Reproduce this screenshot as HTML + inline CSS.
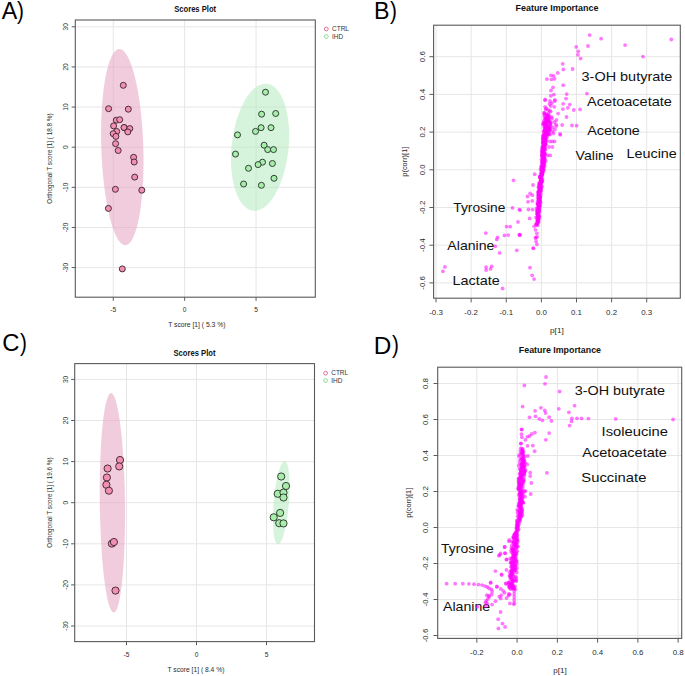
<!DOCTYPE html><html><head><meta charset="utf-8"><style>html,body{margin:0;padding:0;background:#fff;}svg{display:block;}text{font-family:"Liberation Sans",sans-serif;}</style></head><body>
<svg width="685" height="676" viewBox="0 0 685 676">
<rect width="685" height="676" fill="#fff"/>
<text x="1.75" y="18.8" font-size="24.6" fill="#000" textLength="15.5" lengthAdjust="spacingAndGlyphs">A</text>
<text x="17.1" y="18.9" font-size="24.6" fill="#000" textLength="6.9" lengthAdjust="spacingAndGlyphs">)</text>
<text x="373.9" y="18.8" font-size="24.6" fill="#000" textLength="15.5" lengthAdjust="spacingAndGlyphs">B</text>
<text x="390.0" y="18.9" font-size="24.6" fill="#000" textLength="6.9" lengthAdjust="spacingAndGlyphs">)</text>
<text x="2.2" y="351.4" font-size="24.6" fill="#000" textLength="17.2" lengthAdjust="spacingAndGlyphs">C</text>
<text x="20.0" y="351.3" font-size="24.6" fill="#000" textLength="6.9" lengthAdjust="spacingAndGlyphs">)</text>
<text x="373.8" y="353.5" font-size="24.6" fill="#000" textLength="17.6" lengthAdjust="spacingAndGlyphs">D</text>
<text x="392.1" y="353.3" font-size="24.6" fill="#000" textLength="6.9" lengthAdjust="spacingAndGlyphs">)</text>
<line x1="113.25" y1="20.0" x2="113.25" y2="297.2" stroke="#e6e6e6" stroke-width="1"/>
<line x1="184.65" y1="20.0" x2="184.65" y2="297.2" stroke="#e6e6e6" stroke-width="1"/>
<line x1="256.05" y1="20.0" x2="256.05" y2="297.2" stroke="#e6e6e6" stroke-width="1"/>
<line x1="75.3" y1="26.81" x2="315.3" y2="26.81" stroke="#e6e6e6" stroke-width="1"/>
<line x1="75.3" y1="66.94" x2="315.3" y2="66.94" stroke="#e6e6e6" stroke-width="1"/>
<line x1="75.3" y1="107.07" x2="315.3" y2="107.07" stroke="#e6e6e6" stroke-width="1"/>
<line x1="75.3" y1="147.2" x2="315.3" y2="147.2" stroke="#e6e6e6" stroke-width="1"/>
<line x1="75.3" y1="187.33" x2="315.3" y2="187.33" stroke="#e6e6e6" stroke-width="1"/>
<line x1="75.3" y1="227.46" x2="315.3" y2="227.46" stroke="#e6e6e6" stroke-width="1"/>
<line x1="75.3" y1="267.59" x2="315.3" y2="267.59" stroke="#e6e6e6" stroke-width="1"/>
<ellipse cx="122.3" cy="147.1" rx="21.0" ry="98.15" transform="rotate(-1.8 122.3 147.1)" fill="#e6a3c0" fill-opacity="0.55"/>
<ellipse cx="260.05" cy="147.2" rx="28.5" ry="63.8" transform="rotate(6.1 260.05 147.2)" fill="#b5eabd" fill-opacity="0.55"/>
<circle cx="123.3" cy="85.3" r="3.0" fill="#f290b4" stroke="#42262f" stroke-width="0.95"/>
<circle cx="108.6" cy="108.7" r="3.0" fill="#f290b4" stroke="#42262f" stroke-width="0.95"/>
<circle cx="128.3" cy="109.2" r="3.0" fill="#f290b4" stroke="#42262f" stroke-width="0.95"/>
<circle cx="116.3" cy="120.2" r="3.0" fill="#f290b4" stroke="#42262f" stroke-width="0.95"/>
<circle cx="119.7" cy="119.7" r="3.0" fill="#f290b4" stroke="#42262f" stroke-width="0.95"/>
<circle cx="113.6" cy="125.9" r="3.0" fill="#f290b4" stroke="#42262f" stroke-width="0.95"/>
<circle cx="124.3" cy="127.7" r="3.0" fill="#f290b4" stroke="#42262f" stroke-width="0.95"/>
<circle cx="124.0" cy="127.5" r="3.0" fill="#f290b4" stroke="#42262f" stroke-width="0.95"/>
<circle cx="129.8" cy="128.6" r="3.0" fill="#f290b4" stroke="#42262f" stroke-width="0.95"/>
<circle cx="127.8" cy="131.9" r="3.0" fill="#f290b4" stroke="#42262f" stroke-width="0.95"/>
<circle cx="116.7" cy="131.5" r="3.0" fill="#f290b4" stroke="#42262f" stroke-width="0.95"/>
<circle cx="113.2" cy="133.7" r="3.0" fill="#f290b4" stroke="#42262f" stroke-width="0.95"/>
<circle cx="115.9" cy="136.4" r="3.0" fill="#f290b4" stroke="#42262f" stroke-width="0.95"/>
<circle cx="115.6" cy="143.7" r="3.0" fill="#f290b4" stroke="#42262f" stroke-width="0.95"/>
<circle cx="118.2" cy="150.5" r="3.0" fill="#f290b4" stroke="#42262f" stroke-width="0.95"/>
<circle cx="133.6" cy="157.3" r="3.0" fill="#f290b4" stroke="#42262f" stroke-width="0.95"/>
<circle cx="134.2" cy="162.0" r="3.0" fill="#f290b4" stroke="#42262f" stroke-width="0.95"/>
<circle cx="134.7" cy="177.1" r="3.0" fill="#f290b4" stroke="#42262f" stroke-width="0.95"/>
<circle cx="115.4" cy="189.3" r="3.0" fill="#f290b4" stroke="#42262f" stroke-width="0.95"/>
<circle cx="141.8" cy="190.2" r="3.0" fill="#f290b4" stroke="#42262f" stroke-width="0.95"/>
<circle cx="108.4" cy="208.4" r="3.0" fill="#f290b4" stroke="#42262f" stroke-width="0.95"/>
<circle cx="122.3" cy="268.9" r="3.0" fill="#f290b4" stroke="#42262f" stroke-width="0.95"/>
<circle cx="265.5" cy="92.2" r="3.0" fill="#a6eeaa" stroke="#2c382d" stroke-width="0.95"/>
<circle cx="261.6" cy="114.2" r="3.0" fill="#a6eeaa" stroke="#2c382d" stroke-width="0.95"/>
<circle cx="275.7" cy="113.5" r="3.0" fill="#a6eeaa" stroke="#2c382d" stroke-width="0.95"/>
<circle cx="261.1" cy="127.7" r="3.0" fill="#a6eeaa" stroke="#2c382d" stroke-width="0.95"/>
<circle cx="271.0" cy="127.7" r="3.0" fill="#a6eeaa" stroke="#2c382d" stroke-width="0.95"/>
<circle cx="255.5" cy="131.4" r="3.0" fill="#a6eeaa" stroke="#2c382d" stroke-width="0.95"/>
<circle cx="237.5" cy="134.9" r="3.0" fill="#a6eeaa" stroke="#2c382d" stroke-width="0.95"/>
<circle cx="264.1" cy="145.2" r="3.0" fill="#a6eeaa" stroke="#2c382d" stroke-width="0.95"/>
<circle cx="267.7" cy="149.6" r="3.0" fill="#a6eeaa" stroke="#2c382d" stroke-width="0.95"/>
<circle cx="273.5" cy="149.6" r="3.0" fill="#a6eeaa" stroke="#2c382d" stroke-width="0.95"/>
<circle cx="235.5" cy="154.1" r="3.0" fill="#a6eeaa" stroke="#2c382d" stroke-width="0.95"/>
<circle cx="262.5" cy="162.2" r="3.0" fill="#a6eeaa" stroke="#2c382d" stroke-width="0.95"/>
<circle cx="258.1" cy="164.6" r="3.0" fill="#a6eeaa" stroke="#2c382d" stroke-width="0.95"/>
<circle cx="272.4" cy="163.5" r="3.0" fill="#a6eeaa" stroke="#2c382d" stroke-width="0.95"/>
<circle cx="248.5" cy="168.3" r="3.0" fill="#a6eeaa" stroke="#2c382d" stroke-width="0.95"/>
<circle cx="274.0" cy="178.3" r="3.0" fill="#a6eeaa" stroke="#2c382d" stroke-width="0.95"/>
<circle cx="243.6" cy="184.0" r="3.0" fill="#a6eeaa" stroke="#2c382d" stroke-width="0.95"/>
<circle cx="261.4" cy="185.3" r="3.0" fill="#a6eeaa" stroke="#2c382d" stroke-width="0.95"/>
<rect x="75.3" y="20.0" width="240" height="277.2" fill="none" stroke="#5a5a5a" stroke-width="1.1"/>
<line x1="113.25" y1="297.2" x2="113.25" y2="300.8" stroke="#5a5a5a" stroke-width="1"/>
<text x="113.25" y="312" font-size="6.6" text-anchor="middle" fill="#2a2a2a">-5</text>
<line x1="184.65" y1="297.2" x2="184.65" y2="300.8" stroke="#5a5a5a" stroke-width="1"/>
<text x="184.65" y="312" font-size="6.6" text-anchor="middle" fill="#2a2a2a">0</text>
<line x1="256.05" y1="297.2" x2="256.05" y2="300.8" stroke="#5a5a5a" stroke-width="1"/>
<text x="256.05" y="312" font-size="6.6" text-anchor="middle" fill="#2a2a2a">5</text>
<line x1="71.7" y1="26.81" x2="75.3" y2="26.81" stroke="#5a5a5a" stroke-width="1"/>
<text transform="translate(68.2,26.81) rotate(-90)" font-size="6.6" text-anchor="middle" fill="#2a2a2a">30</text>
<line x1="71.7" y1="66.94" x2="75.3" y2="66.94" stroke="#5a5a5a" stroke-width="1"/>
<text transform="translate(68.2,66.94) rotate(-90)" font-size="6.6" text-anchor="middle" fill="#2a2a2a">20</text>
<line x1="71.7" y1="107.07" x2="75.3" y2="107.07" stroke="#5a5a5a" stroke-width="1"/>
<text transform="translate(68.2,107.07) rotate(-90)" font-size="6.6" text-anchor="middle" fill="#2a2a2a">10</text>
<line x1="71.7" y1="147.2" x2="75.3" y2="147.2" stroke="#5a5a5a" stroke-width="1"/>
<text transform="translate(68.2,147.2) rotate(-90)" font-size="6.6" text-anchor="middle" fill="#2a2a2a">0</text>
<line x1="71.7" y1="187.33" x2="75.3" y2="187.33" stroke="#5a5a5a" stroke-width="1"/>
<text transform="translate(68.2,187.33) rotate(-90)" font-size="6.6" text-anchor="middle" fill="#2a2a2a">-10</text>
<line x1="71.7" y1="227.46" x2="75.3" y2="227.46" stroke="#5a5a5a" stroke-width="1"/>
<text transform="translate(68.2,227.46) rotate(-90)" font-size="6.6" text-anchor="middle" fill="#2a2a2a">-20</text>
<line x1="71.7" y1="267.59" x2="75.3" y2="267.59" stroke="#5a5a5a" stroke-width="1"/>
<text transform="translate(68.2,267.59) rotate(-90)" font-size="6.6" text-anchor="middle" fill="#2a2a2a">-30</text>
<text x="174.17" y="11.8" font-size="8.4" font-weight="bold" fill="#111" textLength="42.01" lengthAdjust="spacingAndGlyphs">Scores Plot</text>
<text x="168.24" y="326.9" font-size="6.9" fill="#2a2a2a" textLength="57.17" lengthAdjust="spacingAndGlyphs">T score [1] ( 5.3 %)</text>
<text transform="translate(52,158.6) rotate(-90)" font-size="6.35" text-anchor="middle" fill="#2a2a2a">Orthogonal T score [1] ( 18.8 %)</text>
<circle cx="326.3" cy="29.0" r="1.9" fill="none" stroke="#e0608a" stroke-width="0.9"/>
<circle cx="326.3" cy="36.5" r="1.9" fill="none" stroke="#80d888" stroke-width="0.9"/>
<text x="332.0" y="31.2" font-size="6.5" fill="#333">CTRL</text>
<text x="332.0" y="38.7" font-size="6.5" fill="#333">IHD</text>
<line x1="126.5" y1="363.6" x2="126.5" y2="641.6" stroke="#e6e6e6" stroke-width="1"/>
<line x1="196.5" y1="363.6" x2="196.5" y2="641.6" stroke="#e6e6e6" stroke-width="1"/>
<line x1="266.5" y1="363.6" x2="266.5" y2="641.6" stroke="#e6e6e6" stroke-width="1"/>
<line x1="74.7" y1="379.4" x2="314.5" y2="379.4" stroke="#e6e6e6" stroke-width="1"/>
<line x1="74.7" y1="420.5" x2="314.5" y2="420.5" stroke="#e6e6e6" stroke-width="1"/>
<line x1="74.7" y1="461.6" x2="314.5" y2="461.6" stroke="#e6e6e6" stroke-width="1"/>
<line x1="74.7" y1="502.7" x2="314.5" y2="502.7" stroke="#e6e6e6" stroke-width="1"/>
<line x1="74.7" y1="543.8" x2="314.5" y2="543.8" stroke="#e6e6e6" stroke-width="1"/>
<line x1="74.7" y1="584.9" x2="314.5" y2="584.9" stroke="#e6e6e6" stroke-width="1"/>
<line x1="74.7" y1="626" x2="314.5" y2="626" stroke="#e6e6e6" stroke-width="1"/>
<ellipse cx="112.4" cy="502.85" rx="12.6" ry="109.75" transform="rotate(-0.7 112.4 502.85)" fill="#e6a3c0" fill-opacity="0.55"/>
<ellipse cx="281.25" cy="502.75" rx="7.6" ry="41.8" transform="rotate(4.75 281.25 502.75)" fill="#b5eabd" fill-opacity="0.55"/>
<circle cx="120.0" cy="460.0" r="3.6" fill="#f290b4" stroke="#42262f" stroke-width="0.95"/>
<circle cx="119.2" cy="466.4" r="3.6" fill="#f290b4" stroke="#42262f" stroke-width="0.95"/>
<circle cx="107.6" cy="468.5" r="3.6" fill="#f290b4" stroke="#42262f" stroke-width="0.95"/>
<circle cx="106.9" cy="477.5" r="3.6" fill="#f290b4" stroke="#42262f" stroke-width="0.95"/>
<circle cx="106.4" cy="484.8" r="3.6" fill="#f290b4" stroke="#42262f" stroke-width="0.95"/>
<circle cx="108.9" cy="490.7" r="3.6" fill="#f290b4" stroke="#42262f" stroke-width="0.95"/>
<circle cx="111.9" cy="543.6" r="3.6" fill="#f290b4" stroke="#42262f" stroke-width="0.95"/>
<circle cx="113.9" cy="542.0" r="3.6" fill="#f290b4" stroke="#42262f" stroke-width="0.95"/>
<circle cx="115.5" cy="590.6" r="3.6" fill="#f290b4" stroke="#42262f" stroke-width="0.95"/>
<circle cx="281.2" cy="476.5" r="3.6" fill="#a6eeaa" stroke="#2c382d" stroke-width="0.95"/>
<circle cx="286.0" cy="486.0" r="3.6" fill="#a6eeaa" stroke="#2c382d" stroke-width="0.95"/>
<circle cx="277.7" cy="493.8" r="3.6" fill="#a6eeaa" stroke="#2c382d" stroke-width="0.95"/>
<circle cx="283.5" cy="492.6" r="3.6" fill="#a6eeaa" stroke="#2c382d" stroke-width="0.95"/>
<circle cx="283.5" cy="497.5" r="3.6" fill="#a6eeaa" stroke="#2c382d" stroke-width="0.95"/>
<circle cx="280.1" cy="512.9" r="3.6" fill="#a6eeaa" stroke="#2c382d" stroke-width="0.95"/>
<circle cx="273.7" cy="517.3" r="3.6" fill="#a6eeaa" stroke="#2c382d" stroke-width="0.95"/>
<circle cx="279.2" cy="523.2" r="3.6" fill="#a6eeaa" stroke="#2c382d" stroke-width="0.95"/>
<circle cx="283.5" cy="523.4" r="3.6" fill="#a6eeaa" stroke="#2c382d" stroke-width="0.95"/>
<rect x="74.7" y="363.6" width="239.8" height="278" fill="none" stroke="#5a5a5a" stroke-width="1.1"/>
<line x1="126.5" y1="641.6" x2="126.5" y2="645.2" stroke="#5a5a5a" stroke-width="1"/>
<text x="126.5" y="656.5" font-size="6.6" text-anchor="middle" fill="#2a2a2a">-5</text>
<line x1="196.5" y1="641.6" x2="196.5" y2="645.2" stroke="#5a5a5a" stroke-width="1"/>
<text x="196.5" y="656.5" font-size="6.6" text-anchor="middle" fill="#2a2a2a">0</text>
<line x1="266.5" y1="641.6" x2="266.5" y2="645.2" stroke="#5a5a5a" stroke-width="1"/>
<text x="266.5" y="656.5" font-size="6.6" text-anchor="middle" fill="#2a2a2a">5</text>
<line x1="71.1" y1="379.4" x2="74.7" y2="379.4" stroke="#5a5a5a" stroke-width="1"/>
<text transform="translate(67.6,379.4) rotate(-90)" font-size="6.6" text-anchor="middle" fill="#2a2a2a">30</text>
<line x1="71.1" y1="420.5" x2="74.7" y2="420.5" stroke="#5a5a5a" stroke-width="1"/>
<text transform="translate(67.6,420.5) rotate(-90)" font-size="6.6" text-anchor="middle" fill="#2a2a2a">20</text>
<line x1="71.1" y1="461.6" x2="74.7" y2="461.6" stroke="#5a5a5a" stroke-width="1"/>
<text transform="translate(67.6,461.6) rotate(-90)" font-size="6.6" text-anchor="middle" fill="#2a2a2a">10</text>
<line x1="71.1" y1="502.7" x2="74.7" y2="502.7" stroke="#5a5a5a" stroke-width="1"/>
<text transform="translate(67.6,502.7) rotate(-90)" font-size="6.6" text-anchor="middle" fill="#2a2a2a">0</text>
<line x1="71.1" y1="543.8" x2="74.7" y2="543.8" stroke="#5a5a5a" stroke-width="1"/>
<text transform="translate(67.6,543.8) rotate(-90)" font-size="6.6" text-anchor="middle" fill="#2a2a2a">-10</text>
<line x1="71.1" y1="584.9" x2="74.7" y2="584.9" stroke="#5a5a5a" stroke-width="1"/>
<text transform="translate(67.6,584.9) rotate(-90)" font-size="6.6" text-anchor="middle" fill="#2a2a2a">-20</text>
<line x1="71.1" y1="626" x2="74.7" y2="626" stroke="#5a5a5a" stroke-width="1"/>
<text transform="translate(67.6,626) rotate(-90)" font-size="6.6" text-anchor="middle" fill="#2a2a2a">-30</text>
<text x="173.43" y="355.6" font-size="8.4" font-weight="bold" fill="#111" textLength="42.09" lengthAdjust="spacingAndGlyphs">Scores Plot</text>
<text x="167.50" y="671.6" font-size="6.9" fill="#2a2a2a" textLength="56.91" lengthAdjust="spacingAndGlyphs">T score [1] ( 8.4 %)</text>
<text transform="translate(51.8,502.6) rotate(-90)" font-size="6.35" text-anchor="middle" fill="#2a2a2a">Orthogonal T score [1] ( 19.6 %)</text>
<circle cx="325.6" cy="373.2" r="1.9" fill="none" stroke="#e0608a" stroke-width="0.9"/>
<circle cx="325.6" cy="380.5" r="1.9" fill="none" stroke="#80d888" stroke-width="0.9"/>
<text x="331.2" y="375.4" font-size="6.5" fill="#333">CTRL</text>
<text x="331.2" y="382.7" font-size="6.5" fill="#333">IHD</text>
<line x1="436.01" y1="25.2" x2="436.01" y2="298.2" stroke="#e6e6e6" stroke-width="1"/>
<line x1="471.13" y1="25.2" x2="471.13" y2="298.2" stroke="#e6e6e6" stroke-width="1"/>
<line x1="506.25" y1="25.2" x2="506.25" y2="298.2" stroke="#e6e6e6" stroke-width="1"/>
<line x1="541.37" y1="25.2" x2="541.37" y2="298.2" stroke="#e6e6e6" stroke-width="1"/>
<line x1="576.49" y1="25.2" x2="576.49" y2="298.2" stroke="#e6e6e6" stroke-width="1"/>
<line x1="611.61" y1="25.2" x2="611.61" y2="298.2" stroke="#e6e6e6" stroke-width="1"/>
<line x1="646.73" y1="25.2" x2="646.73" y2="298.2" stroke="#e6e6e6" stroke-width="1"/>
<line x1="433.6" y1="56.7" x2="680.3" y2="56.7" stroke="#e6e6e6" stroke-width="1"/>
<line x1="433.6" y1="94.4" x2="680.3" y2="94.4" stroke="#e6e6e6" stroke-width="1"/>
<line x1="433.6" y1="132.1" x2="680.3" y2="132.1" stroke="#e6e6e6" stroke-width="1"/>
<line x1="433.6" y1="169.8" x2="680.3" y2="169.8" stroke="#e6e6e6" stroke-width="1"/>
<line x1="433.6" y1="207.5" x2="680.3" y2="207.5" stroke="#e6e6e6" stroke-width="1"/>
<line x1="433.6" y1="245.2" x2="680.3" y2="245.2" stroke="#e6e6e6" stroke-width="1"/>
<line x1="433.6" y1="282.9" x2="680.3" y2="282.9" stroke="#e6e6e6" stroke-width="1"/>
<text x="581.59" y="80.5" font-size="13.6" fill="#111" textLength="90.68" lengthAdjust="spacingAndGlyphs">3-OH butyrate</text>
<text x="587.11" y="106.2" font-size="13.6" fill="#111" textLength="84.80" lengthAdjust="spacingAndGlyphs">Acetoacetate</text>
<text x="587.22" y="134.7" font-size="13.6" fill="#111" textLength="52.62" lengthAdjust="spacingAndGlyphs">Acetone</text>
<text x="575.60" y="160.4" font-size="13.6" fill="#111" textLength="38.08" lengthAdjust="spacingAndGlyphs">Valine</text>
<text x="626.50" y="157.9" font-size="13.6" fill="#111" textLength="50.33" lengthAdjust="spacingAndGlyphs">Leucine</text>
<text x="453.26" y="211.7" font-size="13.6" fill="#111" textLength="52.12" lengthAdjust="spacingAndGlyphs">Tyrosine</text>
<text x="447.36" y="250.4" font-size="13.6" fill="#111" textLength="47.09" lengthAdjust="spacingAndGlyphs">Alanine</text>
<text x="452.40" y="285.3" font-size="13.6" fill="#111" textLength="47.30" lengthAdjust="spacingAndGlyphs">Lactate</text>
<g fill="#ff00ff" fill-opacity="0.53">
<circle cx="546.3" cy="108.5" r="1.9"/>
<circle cx="545.7" cy="109.4" r="1.9"/>
<circle cx="548.2" cy="110.1" r="1.9"/>
<circle cx="550.6" cy="111.6" r="1.9"/>
<circle cx="544.0" cy="112.9" r="1.9"/>
<circle cx="545.2" cy="113.8" r="1.9"/>
<circle cx="548.3" cy="113.4" r="1.9"/>
<circle cx="544.4" cy="114.7" r="1.9"/>
<circle cx="547.0" cy="114.5" r="1.9"/>
<circle cx="548.9" cy="115.2" r="1.9"/>
<circle cx="547.5" cy="115.9" r="1.9"/>
<circle cx="547.7" cy="116.4" r="1.9"/>
<circle cx="544.4" cy="116.5" r="1.9"/>
<circle cx="549.4" cy="117.6" r="1.9"/>
<circle cx="545.6" cy="117.7" r="1.9"/>
<circle cx="547.9" cy="117.5" r="1.9"/>
<circle cx="546.9" cy="118.7" r="1.9"/>
<circle cx="548.6" cy="119.0" r="1.9"/>
<circle cx="545.3" cy="118.4" r="1.9"/>
<circle cx="545.5" cy="119.1" r="1.9"/>
<circle cx="546.6" cy="119.2" r="1.9"/>
<circle cx="546.9" cy="119.4" r="1.9"/>
<circle cx="549.6" cy="120.9" r="1.9"/>
<circle cx="546.1" cy="120.9" r="1.9"/>
<circle cx="544.1" cy="120.2" r="1.9"/>
<circle cx="547.2" cy="121.3" r="1.9"/>
<circle cx="546.1" cy="121.6" r="1.9"/>
<circle cx="548.5" cy="121.5" r="1.9"/>
<circle cx="548.4" cy="121.1" r="1.9"/>
<circle cx="549.9" cy="122.8" r="1.9"/>
<circle cx="544.8" cy="122.6" r="1.9"/>
<circle cx="543.9" cy="122.2" r="1.9"/>
<circle cx="543.4" cy="123.1" r="1.9"/>
<circle cx="546.4" cy="123.6" r="1.9"/>
<circle cx="545.2" cy="123.4" r="1.9"/>
<circle cx="550.2" cy="123.5" r="1.9"/>
<circle cx="544.5" cy="124.3" r="1.9"/>
<circle cx="544.0" cy="124.0" r="1.9"/>
<circle cx="546.9" cy="124.1" r="1.9"/>
<circle cx="542.9" cy="124.5" r="1.9"/>
<circle cx="548.2" cy="125.3" r="1.9"/>
<circle cx="546.4" cy="125.5" r="1.9"/>
<circle cx="545.3" cy="125.2" r="1.9"/>
<circle cx="550.5" cy="125.9" r="1.9"/>
<circle cx="548.5" cy="126.2" r="1.9"/>
<circle cx="545.4" cy="126.0" r="1.9"/>
<circle cx="544.8" cy="126.7" r="1.9"/>
<circle cx="546.2" cy="126.9" r="1.9"/>
<circle cx="545.4" cy="127.2" r="1.9"/>
<circle cx="544.2" cy="127.6" r="1.9"/>
<circle cx="549.2" cy="127.5" r="1.9"/>
<circle cx="548.8" cy="127.1" r="1.9"/>
<circle cx="548.6" cy="128.8" r="1.9"/>
<circle cx="546.3" cy="128.3" r="1.9"/>
<circle cx="550.0" cy="128.4" r="1.9"/>
<circle cx="549.0" cy="128.2" r="1.9"/>
<circle cx="549.0" cy="129.1" r="1.9"/>
<circle cx="549.9" cy="129.7" r="1.9"/>
<circle cx="545.1" cy="129.0" r="1.9"/>
<circle cx="547.4" cy="129.5" r="1.9"/>
<circle cx="545.8" cy="129.9" r="1.9"/>
<circle cx="544.5" cy="130.2" r="1.9"/>
<circle cx="544.4" cy="130.4" r="1.9"/>
<circle cx="547.2" cy="130.5" r="1.9"/>
<circle cx="549.2" cy="130.4" r="1.9"/>
<circle cx="546.3" cy="131.5" r="1.9"/>
<circle cx="544.7" cy="131.0" r="1.9"/>
<circle cx="543.7" cy="131.5" r="1.9"/>
<circle cx="546.5" cy="131.3" r="1.9"/>
<circle cx="548.0" cy="132.1" r="1.9"/>
<circle cx="544.2" cy="132.3" r="1.9"/>
<circle cx="546.1" cy="132.6" r="1.9"/>
<circle cx="548.9" cy="132.4" r="1.9"/>
<circle cx="546.0" cy="133.7" r="1.9"/>
<circle cx="545.9" cy="133.9" r="1.9"/>
<circle cx="548.5" cy="133.9" r="1.9"/>
<circle cx="547.7" cy="133.8" r="1.9"/>
<circle cx="544.0" cy="134.2" r="1.9"/>
<circle cx="547.1" cy="134.9" r="1.9"/>
<circle cx="546.9" cy="134.1" r="1.9"/>
<circle cx="548.7" cy="134.2" r="1.9"/>
<circle cx="545.0" cy="134.5" r="1.9"/>
<circle cx="543.3" cy="135.4" r="1.9"/>
<circle cx="544.4" cy="135.2" r="1.9"/>
<circle cx="544.6" cy="135.6" r="1.9"/>
<circle cx="543.4" cy="135.6" r="1.9"/>
<circle cx="547.3" cy="137.0" r="1.9"/>
<circle cx="543.1" cy="136.8" r="1.9"/>
<circle cx="543.8" cy="136.9" r="1.9"/>
<circle cx="543.7" cy="136.1" r="1.9"/>
<circle cx="545.9" cy="137.1" r="1.9"/>
<circle cx="545.1" cy="137.1" r="1.9"/>
<circle cx="545.5" cy="137.8" r="1.9"/>
<circle cx="544.6" cy="137.9" r="1.9"/>
<circle cx="545.7" cy="138.3" r="1.9"/>
<circle cx="544.0" cy="138.1" r="1.9"/>
<circle cx="542.8" cy="138.3" r="1.9"/>
<circle cx="544.7" cy="138.5" r="1.9"/>
<circle cx="542.8" cy="139.0" r="1.9"/>
<circle cx="544.7" cy="139.2" r="1.9"/>
<circle cx="544.6" cy="139.8" r="1.9"/>
<circle cx="545.2" cy="139.4" r="1.9"/>
<circle cx="546.5" cy="140.3" r="1.9"/>
<circle cx="545.3" cy="140.6" r="1.9"/>
<circle cx="543.0" cy="140.1" r="1.9"/>
<circle cx="544.4" cy="140.2" r="1.9"/>
<circle cx="545.9" cy="141.7" r="1.9"/>
<circle cx="543.3" cy="141.5" r="1.9"/>
<circle cx="543.7" cy="142.0" r="1.9"/>
<circle cx="544.5" cy="141.2" r="1.9"/>
<circle cx="542.8" cy="142.4" r="1.9"/>
<circle cx="543.6" cy="142.5" r="1.9"/>
<circle cx="542.8" cy="142.4" r="1.9"/>
<circle cx="543.2" cy="143.6" r="1.9"/>
<circle cx="545.2" cy="143.7" r="1.9"/>
<circle cx="545.7" cy="143.4" r="1.9"/>
<circle cx="544.4" cy="143.7" r="1.9"/>
<circle cx="545.5" cy="144.6" r="1.9"/>
<circle cx="545.3" cy="144.1" r="1.9"/>
<circle cx="544.1" cy="144.8" r="1.9"/>
<circle cx="545.3" cy="144.6" r="1.9"/>
<circle cx="544.7" cy="145.2" r="1.9"/>
<circle cx="543.0" cy="145.1" r="1.9"/>
<circle cx="544.2" cy="145.6" r="1.9"/>
<circle cx="543.9" cy="146.0" r="1.9"/>
<circle cx="544.9" cy="146.5" r="1.9"/>
<circle cx="544.5" cy="146.1" r="1.9"/>
<circle cx="542.9" cy="146.1" r="1.9"/>
<circle cx="542.7" cy="147.7" r="1.9"/>
<circle cx="543.8" cy="147.4" r="1.9"/>
<circle cx="544.7" cy="147.6" r="1.9"/>
<circle cx="542.2" cy="147.1" r="1.9"/>
<circle cx="543.1" cy="148.6" r="1.9"/>
<circle cx="542.5" cy="148.7" r="1.9"/>
<circle cx="544.5" cy="148.3" r="1.9"/>
<circle cx="543.7" cy="148.5" r="1.9"/>
<circle cx="542.6" cy="150.0" r="1.9"/>
<circle cx="542.0" cy="149.5" r="1.9"/>
<circle cx="545.5" cy="149.4" r="1.9"/>
<circle cx="544.0" cy="149.2" r="1.9"/>
<circle cx="544.6" cy="150.1" r="1.9"/>
<circle cx="543.7" cy="150.9" r="1.9"/>
<circle cx="542.7" cy="150.9" r="1.9"/>
<circle cx="542.7" cy="151.5" r="1.9"/>
<circle cx="542.7" cy="151.3" r="1.9"/>
<circle cx="541.8" cy="151.8" r="1.9"/>
<circle cx="542.3" cy="151.9" r="1.9"/>
<circle cx="542.8" cy="152.4" r="1.9"/>
<circle cx="544.7" cy="152.4" r="1.9"/>
<circle cx="542.4" cy="152.1" r="1.9"/>
<circle cx="543.9" cy="153.3" r="1.9"/>
<circle cx="542.4" cy="153.4" r="1.9"/>
<circle cx="544.9" cy="153.8" r="1.9"/>
<circle cx="545.1" cy="154.5" r="1.9"/>
<circle cx="541.9" cy="154.7" r="1.9"/>
<circle cx="544.2" cy="154.3" r="1.9"/>
<circle cx="542.1" cy="155.5" r="1.9"/>
<circle cx="543.5" cy="156.0" r="1.9"/>
<circle cx="543.4" cy="155.6" r="1.9"/>
<circle cx="542.2" cy="155.2" r="1.9"/>
<circle cx="543.6" cy="157.0" r="1.9"/>
<circle cx="542.2" cy="156.1" r="1.9"/>
<circle cx="542.2" cy="156.3" r="1.9"/>
<circle cx="544.2" cy="157.4" r="1.9"/>
<circle cx="543.2" cy="157.3" r="1.9"/>
<circle cx="543.8" cy="157.1" r="1.9"/>
<circle cx="544.6" cy="158.2" r="1.9"/>
<circle cx="542.7" cy="158.4" r="1.9"/>
<circle cx="544.6" cy="158.9" r="1.9"/>
<circle cx="544.3" cy="159.5" r="1.9"/>
<circle cx="541.5" cy="159.4" r="1.9"/>
<circle cx="544.4" cy="159.9" r="1.9"/>
<circle cx="542.3" cy="159.1" r="1.9"/>
<circle cx="543.9" cy="160.9" r="1.9"/>
<circle cx="543.7" cy="160.8" r="1.9"/>
<circle cx="542.5" cy="160.8" r="1.9"/>
<circle cx="544.2" cy="160.3" r="1.9"/>
<circle cx="543.7" cy="161.1" r="1.9"/>
<circle cx="543.3" cy="161.4" r="1.9"/>
<circle cx="542.4" cy="161.3" r="1.9"/>
<circle cx="544.2" cy="161.9" r="1.9"/>
<circle cx="543.4" cy="162.7" r="1.9"/>
<circle cx="542.2" cy="162.7" r="1.9"/>
<circle cx="542.9" cy="162.9" r="1.9"/>
<circle cx="541.9" cy="162.4" r="1.9"/>
<circle cx="543.9" cy="163.5" r="1.9"/>
<circle cx="543.5" cy="163.8" r="1.9"/>
<circle cx="542.9" cy="163.3" r="1.9"/>
<circle cx="541.8" cy="164.4" r="1.9"/>
<circle cx="544.5" cy="164.1" r="1.9"/>
<circle cx="543.2" cy="164.1" r="1.9"/>
<circle cx="543.3" cy="165.9" r="1.9"/>
<circle cx="544.7" cy="165.9" r="1.9"/>
<circle cx="543.0" cy="165.7" r="1.9"/>
<circle cx="542.9" cy="165.4" r="1.9"/>
<circle cx="541.3" cy="166.4" r="1.9"/>
<circle cx="541.3" cy="167.0" r="1.9"/>
<circle cx="543.0" cy="166.8" r="1.9"/>
<circle cx="541.8" cy="166.4" r="1.9"/>
<circle cx="543.0" cy="167.0" r="1.9"/>
<circle cx="543.6" cy="167.0" r="1.9"/>
<circle cx="542.5" cy="167.3" r="1.9"/>
<circle cx="541.8" cy="168.3" r="1.9"/>
<circle cx="542.8" cy="168.3" r="1.9"/>
<circle cx="541.7" cy="168.3" r="1.9"/>
<circle cx="543.6" cy="169.6" r="1.9"/>
<circle cx="540.6" cy="169.2" r="1.9"/>
<circle cx="543.8" cy="169.4" r="1.9"/>
<circle cx="542.1" cy="169.9" r="1.9"/>
<circle cx="542.8" cy="170.8" r="1.9"/>
<circle cx="542.4" cy="170.3" r="1.9"/>
<circle cx="542.3" cy="170.1" r="1.9"/>
<circle cx="541.1" cy="171.1" r="1.9"/>
<circle cx="541.7" cy="172.0" r="1.9"/>
<circle cx="543.4" cy="171.3" r="1.9"/>
<circle cx="542.1" cy="172.4" r="1.9"/>
<circle cx="541.8" cy="172.7" r="1.9"/>
<circle cx="542.8" cy="172.7" r="1.9"/>
<circle cx="541.0" cy="173.6" r="1.9"/>
<circle cx="541.5" cy="173.2" r="1.9"/>
<circle cx="541.7" cy="173.6" r="1.9"/>
<circle cx="542.3" cy="174.2" r="1.9"/>
<circle cx="542.0" cy="175.0" r="1.9"/>
<circle cx="542.0" cy="174.8" r="1.9"/>
<circle cx="540.5" cy="175.2" r="1.9"/>
<circle cx="541.7" cy="175.9" r="1.9"/>
<circle cx="541.9" cy="175.3" r="1.9"/>
<circle cx="540.0" cy="176.6" r="1.9"/>
<circle cx="540.4" cy="176.4" r="1.9"/>
<circle cx="540.4" cy="176.6" r="1.9"/>
<circle cx="540.1" cy="177.7" r="1.9"/>
<circle cx="540.3" cy="177.8" r="1.9"/>
<circle cx="539.7" cy="177.1" r="1.9"/>
<circle cx="541.5" cy="178.1" r="1.9"/>
<circle cx="541.2" cy="178.3" r="1.9"/>
<circle cx="541.5" cy="178.6" r="1.9"/>
<circle cx="542.4" cy="179.4" r="1.9"/>
<circle cx="540.8" cy="179.0" r="1.9"/>
<circle cx="540.7" cy="179.8" r="1.9"/>
<circle cx="540.7" cy="180.2" r="1.9"/>
<circle cx="541.1" cy="180.9" r="1.9"/>
<circle cx="540.8" cy="180.5" r="1.9"/>
<circle cx="541.5" cy="181.1" r="1.9"/>
<circle cx="542.1" cy="181.2" r="1.9"/>
<circle cx="542.4" cy="181.5" r="1.9"/>
<circle cx="541.3" cy="181.9" r="1.9"/>
<circle cx="539.4" cy="182.8" r="1.9"/>
<circle cx="541.1" cy="182.8" r="1.9"/>
<circle cx="539.9" cy="182.5" r="1.9"/>
<circle cx="540.5" cy="183.9" r="1.9"/>
<circle cx="541.1" cy="183.0" r="1.9"/>
<circle cx="539.1" cy="183.6" r="1.9"/>
<circle cx="539.7" cy="184.4" r="1.9"/>
<circle cx="540.2" cy="184.7" r="1.9"/>
<circle cx="539.5" cy="184.6" r="1.9"/>
<circle cx="541.4" cy="185.5" r="1.9"/>
<circle cx="539.6" cy="185.1" r="1.9"/>
<circle cx="539.5" cy="185.5" r="1.9"/>
<circle cx="538.7" cy="186.7" r="1.9"/>
<circle cx="540.3" cy="186.1" r="1.9"/>
<circle cx="539.8" cy="187.0" r="1.9"/>
<circle cx="541.9" cy="186.7" r="1.9"/>
<circle cx="541.1" cy="188.0" r="1.9"/>
<circle cx="538.9" cy="187.8" r="1.9"/>
<circle cx="538.5" cy="187.4" r="1.9"/>
<circle cx="540.4" cy="188.8" r="1.9"/>
<circle cx="540.9" cy="188.2" r="1.9"/>
<circle cx="539.8" cy="188.0" r="1.9"/>
<circle cx="541.2" cy="189.9" r="1.9"/>
<circle cx="539.8" cy="189.5" r="1.9"/>
<circle cx="539.5" cy="189.9" r="1.9"/>
<circle cx="540.3" cy="189.9" r="1.9"/>
<circle cx="540.4" cy="190.4" r="1.9"/>
<circle cx="539.0" cy="191.0" r="1.9"/>
<circle cx="539.4" cy="190.8" r="1.9"/>
<circle cx="539.8" cy="190.0" r="1.9"/>
<circle cx="541.0" cy="191.6" r="1.9"/>
<circle cx="539.1" cy="191.0" r="1.9"/>
<circle cx="539.4" cy="191.4" r="1.9"/>
<circle cx="538.4" cy="192.2" r="1.9"/>
<circle cx="538.0" cy="192.0" r="1.9"/>
<circle cx="538.8" cy="192.2" r="1.9"/>
<circle cx="538.6" cy="193.6" r="1.9"/>
<circle cx="539.8" cy="193.2" r="1.9"/>
<circle cx="539.2" cy="193.9" r="1.9"/>
<circle cx="538.3" cy="194.6" r="1.9"/>
<circle cx="539.0" cy="194.6" r="1.9"/>
<circle cx="540.8" cy="194.2" r="1.9"/>
<circle cx="539.4" cy="195.2" r="1.9"/>
<circle cx="539.1" cy="195.6" r="1.9"/>
<circle cx="538.2" cy="195.2" r="1.9"/>
<circle cx="539.9" cy="196.8" r="1.9"/>
<circle cx="538.7" cy="196.0" r="1.9"/>
<circle cx="540.4" cy="196.7" r="1.9"/>
<circle cx="540.2" cy="197.5" r="1.9"/>
<circle cx="539.2" cy="197.2" r="1.9"/>
<circle cx="538.0" cy="197.3" r="1.9"/>
<circle cx="540.0" cy="197.8" r="1.9"/>
<circle cx="539.3" cy="198.8" r="1.9"/>
<circle cx="538.4" cy="198.6" r="1.9"/>
<circle cx="538.3" cy="198.9" r="1.9"/>
<circle cx="539.2" cy="199.9" r="1.9"/>
<circle cx="538.6" cy="199.9" r="1.9"/>
<circle cx="539.5" cy="199.6" r="1.9"/>
<circle cx="539.8" cy="200.0" r="1.9"/>
<circle cx="539.8" cy="200.9" r="1.9"/>
<circle cx="539.7" cy="200.3" r="1.9"/>
<circle cx="538.6" cy="200.9" r="1.9"/>
<circle cx="539.1" cy="201.3" r="1.9"/>
<circle cx="537.5" cy="201.7" r="1.9"/>
<circle cx="539.8" cy="201.7" r="1.9"/>
<circle cx="538.6" cy="202.8" r="1.9"/>
<circle cx="540.4" cy="202.1" r="1.9"/>
<circle cx="540.5" cy="202.9" r="1.9"/>
<circle cx="537.5" cy="203.8" r="1.9"/>
<circle cx="539.4" cy="203.8" r="1.9"/>
<circle cx="538.2" cy="203.1" r="1.9"/>
<circle cx="537.9" cy="204.3" r="1.9"/>
<circle cx="537.7" cy="204.3" r="1.9"/>
<circle cx="538.5" cy="204.3" r="1.9"/>
<circle cx="540.0" cy="205.6" r="1.9"/>
<circle cx="538.5" cy="205.8" r="1.9"/>
<circle cx="539.2" cy="205.2" r="1.9"/>
<circle cx="538.7" cy="206.0" r="1.9"/>
<circle cx="540.0" cy="206.0" r="1.9"/>
<circle cx="539.2" cy="206.2" r="1.9"/>
<circle cx="538.7" cy="207.9" r="1.9"/>
<circle cx="538.4" cy="207.5" r="1.9"/>
<circle cx="538.1" cy="207.8" r="1.9"/>
<circle cx="538.9" cy="208.4" r="1.9"/>
<circle cx="539.0" cy="208.1" r="1.9"/>
<circle cx="536.7" cy="208.2" r="1.9"/>
<circle cx="538.3" cy="209.4" r="1.9"/>
<circle cx="537.3" cy="209.5" r="1.9"/>
<circle cx="539.3" cy="209.8" r="1.9"/>
<circle cx="537.2" cy="210.8" r="1.9"/>
<circle cx="539.2" cy="210.2" r="1.9"/>
<circle cx="538.9" cy="210.1" r="1.9"/>
<circle cx="537.1" cy="211.2" r="1.9"/>
<circle cx="539.2" cy="211.2" r="1.9"/>
<circle cx="537.3" cy="211.5" r="1.9"/>
<circle cx="538.3" cy="212.7" r="1.9"/>
<circle cx="538.1" cy="212.4" r="1.9"/>
<circle cx="539.2" cy="212.7" r="1.9"/>
<circle cx="537.5" cy="213.2" r="1.9"/>
<circle cx="536.8" cy="213.8" r="1.9"/>
<circle cx="538.0" cy="213.6" r="1.9"/>
<circle cx="538.0" cy="214.7" r="1.9"/>
<circle cx="537.7" cy="214.6" r="1.9"/>
<circle cx="537.6" cy="214.2" r="1.9"/>
<circle cx="539.0" cy="215.7" r="1.9"/>
<circle cx="538.6" cy="215.6" r="1.9"/>
<circle cx="537.8" cy="215.1" r="1.9"/>
<circle cx="538.7" cy="216.6" r="1.9"/>
<circle cx="537.6" cy="216.6" r="1.9"/>
<circle cx="539.1" cy="216.2" r="1.9"/>
<circle cx="537.4" cy="217.5" r="1.9"/>
<circle cx="536.0" cy="217.5" r="1.9"/>
<circle cx="539.5" cy="218.5" r="1.9"/>
<circle cx="538.0" cy="218.7" r="1.9"/>
<circle cx="538.4" cy="218.8" r="1.9"/>
<circle cx="538.1" cy="219.7" r="1.9"/>
<circle cx="537.6" cy="220.0" r="1.9"/>
<circle cx="537.1" cy="220.0" r="1.9"/>
<circle cx="538.0" cy="220.4" r="1.9"/>
<circle cx="537.7" cy="220.9" r="1.9"/>
<circle cx="538.0" cy="221.2" r="1.9"/>
<circle cx="538.7" cy="221.6" r="1.9"/>
<circle cx="536.5" cy="223.0" r="1.9"/>
<circle cx="538.3" cy="222.8" r="1.9"/>
<circle cx="536.8" cy="223.8" r="1.9"/>
<circle cx="537.6" cy="223.4" r="1.9"/>
<circle cx="536.0" cy="224.7" r="1.9"/>
<circle cx="536.5" cy="224.5" r="1.9"/>
<circle cx="537.6" cy="225.4" r="1.9"/>
<circle cx="589.7" cy="35.1" r="1.9"/>
<circle cx="601.1" cy="38.7" r="1.9"/>
<circle cx="671.3" cy="39.5" r="1.9"/>
<circle cx="588.0" cy="46.0" r="1.9"/>
<circle cx="625.1" cy="45.1" r="1.9"/>
<circle cx="576.2" cy="46.9" r="1.9"/>
<circle cx="578.3" cy="51.3" r="1.9"/>
<circle cx="577.9" cy="54.8" r="1.9"/>
<circle cx="580.6" cy="58.6" r="1.9"/>
<circle cx="643.0" cy="56.6" r="1.9"/>
<circle cx="562.7" cy="63.8" r="1.9"/>
<circle cx="563.3" cy="69.4" r="1.9"/>
<circle cx="572.6" cy="69.0" r="1.9"/>
<circle cx="557.8" cy="72.9" r="1.9"/>
<circle cx="551.0" cy="75.3" r="1.9"/>
<circle cx="553.6" cy="75.9" r="1.9"/>
<circle cx="546.9" cy="79.1" r="1.9"/>
<circle cx="551.5" cy="79.4" r="1.9"/>
<circle cx="554.6" cy="78.8" r="1.9"/>
<circle cx="563.2" cy="85.2" r="1.9"/>
<circle cx="553.0" cy="87.3" r="1.9"/>
<circle cx="551.0" cy="90.5" r="1.9"/>
<circle cx="553.9" cy="94.6" r="1.9"/>
<circle cx="550.8" cy="95.9" r="1.9"/>
<circle cx="566.7" cy="94.1" r="1.9"/>
<circle cx="586.9" cy="93.6" r="1.9"/>
<circle cx="566.1" cy="98.6" r="1.9"/>
<circle cx="545.1" cy="99.4" r="1.9"/>
<circle cx="554.8" cy="99.9" r="1.9"/>
<circle cx="545.1" cy="100.3" r="1.9"/>
<circle cx="550" cy="101" r="1.9"/>
<circle cx="555" cy="101" r="1.9"/>
<circle cx="552" cy="103" r="1.9"/>
<circle cx="549.5" cy="104" r="1.9"/>
<circle cx="563.2" cy="103.8" r="1.9"/>
<circle cx="569.8" cy="104.6" r="1.9"/>
<circle cx="545.1" cy="106.8" r="1.9"/>
<circle cx="550.8" cy="106" r="1.9"/>
<circle cx="554.3" cy="106.8" r="1.9"/>
<circle cx="567.8" cy="107.8" r="1.9"/>
<circle cx="562.9" cy="109.1" r="1.9"/>
<circle cx="573.8" cy="110.0" r="1.9"/>
<circle cx="580.1" cy="109.4" r="1.9"/>
<circle cx="549.8" cy="110.6" r="1.9"/>
<circle cx="544.4" cy="113" r="1.9"/>
<circle cx="558.1" cy="113.6" r="1.9"/>
<circle cx="548.2" cy="116" r="1.9"/>
<circle cx="551.3" cy="116.9" r="1.9"/>
<circle cx="566.5" cy="117.0" r="1.9"/>
<circle cx="556.5" cy="120" r="1.9"/>
<circle cx="562.2" cy="125.0" r="1.9"/>
<circle cx="572.0" cy="125.5" r="1.9"/>
<circle cx="576.6" cy="125.7" r="1.9"/>
<circle cx="556.5" cy="126.1" r="1.9"/>
<circle cx="560.0" cy="134.0" r="1.9"/>
<circle cx="560.3" cy="134.8" r="1.9"/>
<circle cx="549.8" cy="141.4" r="1.9"/>
<circle cx="552.3" cy="141.4" r="1.9"/>
<circle cx="554.6" cy="141.4" r="1.9"/>
<circle cx="549" cy="147" r="1.9"/>
<circle cx="552.4" cy="147" r="1.9"/>
<circle cx="547.6" cy="155.4" r="1.9"/>
<circle cx="550.2" cy="155.4" r="1.9"/>
<circle cx="545.8" cy="161.1" r="1.9"/>
<circle cx="534.7" cy="174.2" r="1.9"/>
<circle cx="513.5" cy="180.3" r="1.9"/>
<circle cx="533" cy="185" r="1.9"/>
<circle cx="530.1" cy="193.5" r="1.9"/>
<circle cx="527.5" cy="196.5" r="1.9"/>
<circle cx="532.3" cy="195.2" r="1.9"/>
<circle cx="528" cy="201.8" r="1.9"/>
<circle cx="532.3" cy="200.9" r="1.9"/>
<circle cx="512.5" cy="207.9" r="1.9"/>
<circle cx="520.1" cy="210.1" r="1.9"/>
<circle cx="528.5" cy="209.5" r="1.9"/>
<circle cx="532.6" cy="209.6" r="1.9"/>
<circle cx="529.6" cy="218.4" r="1.9"/>
<circle cx="518" cy="221.9" r="1.9"/>
<circle cx="506.6" cy="226.6" r="1.9"/>
<circle cx="510.2" cy="226.7" r="1.9"/>
<circle cx="504.5" cy="235.4" r="1.9"/>
<circle cx="508.2" cy="235.1" r="1.9"/>
<circle cx="520.1" cy="234.6" r="1.9"/>
<circle cx="534.2" cy="226.3" r="1.9"/>
<circle cx="535.5" cy="229.8" r="1.9"/>
<circle cx="536.8" cy="233.3" r="1.9"/>
<circle cx="535.9" cy="237.7" r="1.9"/>
<circle cx="497.6" cy="237.3" r="1.9"/>
<circle cx="496.8" cy="239.4" r="1.9"/>
<circle cx="519.7" cy="235.4" r="1.9"/>
<circle cx="535.5" cy="237.9" r="1.9"/>
<circle cx="537.2" cy="236.8" r="1.9"/>
<circle cx="536.1" cy="241.4" r="1.9"/>
<circle cx="536.9" cy="244.3" r="1.9"/>
<circle cx="495.2" cy="246.3" r="1.9"/>
<circle cx="533.1" cy="248.1" r="1.9"/>
<circle cx="533.5" cy="248.3" r="1.9"/>
<circle cx="516.8" cy="250.3" r="1.9"/>
<circle cx="499.6" cy="252.9" r="1.9"/>
<circle cx="486.1" cy="267.1" r="1.9"/>
<circle cx="491.7" cy="266.3" r="1.9"/>
<circle cx="486.1" cy="270" r="1.9"/>
<circle cx="490.5" cy="268.9" r="1.9"/>
<circle cx="530" cy="267.7" r="1.9"/>
<circle cx="532.2" cy="275.3" r="1.9"/>
<circle cx="534.1" cy="279.1" r="1.9"/>
<circle cx="502.6" cy="288.5" r="1.9"/>
<circle cx="444.9" cy="266.9" r="1.9"/>
<circle cx="442.9" cy="271.3" r="1.9"/>
<circle cx="485.8" cy="233.1" r="1.9"/>
<circle cx="519.3" cy="209.7" r="1.9"/>
<circle cx="519.3" cy="234.7" r="1.9"/>
<circle cx="552" cy="118.5" r="1.9"/>
<circle cx="554.5" cy="122" r="1.9"/>
<circle cx="556" cy="124.5" r="1.9"/>
<circle cx="553" cy="127.5" r="1.9"/>
<circle cx="550.5" cy="125" r="1.9"/>
<circle cx="548.5" cy="120.5" r="1.9"/>
<circle cx="555" cy="129.5" r="1.9"/>
<circle cx="552.5" cy="131.5" r="1.9"/>
<circle cx="549.5" cy="130" r="1.9"/>
<circle cx="547" cy="117" r="1.9"/>
<circle cx="551" cy="122.5" r="1.9"/>
<circle cx="546" cy="123" r="1.9"/>
<circle cx="553.5" cy="133.5" r="1.9"/>
<circle cx="550" cy="134.5" r="1.9"/>
</g>
<rect x="433.6" y="25.2" width="246.7" height="273" fill="none" stroke="#5a5a5a" stroke-width="1.1"/>
<line x1="436.01" y1="298.2" x2="436.01" y2="302.4" stroke="#5a5a5a" stroke-width="1"/>
<text x="436.01" y="315.4" font-size="7.9" text-anchor="middle" fill="#2a2a2a">-0.3</text>
<line x1="471.13" y1="298.2" x2="471.13" y2="302.4" stroke="#5a5a5a" stroke-width="1"/>
<text x="471.13" y="315.4" font-size="7.9" text-anchor="middle" fill="#2a2a2a">-0.2</text>
<line x1="506.25" y1="298.2" x2="506.25" y2="302.4" stroke="#5a5a5a" stroke-width="1"/>
<text x="506.25" y="315.4" font-size="7.9" text-anchor="middle" fill="#2a2a2a">-0.1</text>
<line x1="541.37" y1="298.2" x2="541.37" y2="302.4" stroke="#5a5a5a" stroke-width="1"/>
<text x="541.37" y="315.4" font-size="7.9" text-anchor="middle" fill="#2a2a2a">0.0</text>
<line x1="576.49" y1="298.2" x2="576.49" y2="302.4" stroke="#5a5a5a" stroke-width="1"/>
<text x="576.49" y="315.4" font-size="7.9" text-anchor="middle" fill="#2a2a2a">0.1</text>
<line x1="611.61" y1="298.2" x2="611.61" y2="302.4" stroke="#5a5a5a" stroke-width="1"/>
<text x="611.61" y="315.4" font-size="7.9" text-anchor="middle" fill="#2a2a2a">0.2</text>
<line x1="646.73" y1="298.2" x2="646.73" y2="302.4" stroke="#5a5a5a" stroke-width="1"/>
<text x="646.73" y="315.4" font-size="7.9" text-anchor="middle" fill="#2a2a2a">0.3</text>
<line x1="429.4" y1="56.7" x2="433.6" y2="56.7" stroke="#5a5a5a" stroke-width="1"/>
<text transform="translate(424.6,56.7) rotate(-90)" font-size="7.9" text-anchor="middle" fill="#2a2a2a">0.6</text>
<line x1="429.4" y1="94.4" x2="433.6" y2="94.4" stroke="#5a5a5a" stroke-width="1"/>
<text transform="translate(424.6,94.4) rotate(-90)" font-size="7.9" text-anchor="middle" fill="#2a2a2a">0.4</text>
<line x1="429.4" y1="132.1" x2="433.6" y2="132.1" stroke="#5a5a5a" stroke-width="1"/>
<text transform="translate(424.6,132.1) rotate(-90)" font-size="7.9" text-anchor="middle" fill="#2a2a2a">0.2</text>
<line x1="429.4" y1="169.8" x2="433.6" y2="169.8" stroke="#5a5a5a" stroke-width="1"/>
<text transform="translate(424.6,169.8) rotate(-90)" font-size="7.9" text-anchor="middle" fill="#2a2a2a">0.0</text>
<line x1="429.4" y1="207.5" x2="433.6" y2="207.5" stroke="#5a5a5a" stroke-width="1"/>
<text transform="translate(424.6,207.5) rotate(-90)" font-size="7.9" text-anchor="middle" fill="#2a2a2a">-0.2</text>
<line x1="429.4" y1="245.2" x2="433.6" y2="245.2" stroke="#5a5a5a" stroke-width="1"/>
<text transform="translate(424.6,245.2) rotate(-90)" font-size="7.9" text-anchor="middle" fill="#2a2a2a">-0.4</text>
<line x1="429.4" y1="282.9" x2="433.6" y2="282.9" stroke="#5a5a5a" stroke-width="1"/>
<text transform="translate(424.6,282.9) rotate(-90)" font-size="7.9" text-anchor="middle" fill="#2a2a2a">-0.6</text>
<text x="515.59" y="10.9" font-size="9.3" font-weight="bold" fill="#111" textLength="82.79" lengthAdjust="spacingAndGlyphs">Feature Importance</text>
<text x="550.04" y="333.0" font-size="7.8" fill="#2a2a2a" textLength="13.73" lengthAdjust="spacingAndGlyphs">p[1]</text>
<text transform="translate(407.2,161.7) rotate(-90)" font-size="7.4" text-anchor="middle" fill="#2a2a2a">p(corr)[1]</text>
<line x1="476.84" y1="367.2" x2="476.84" y2="638.4" stroke="#e6e6e6" stroke-width="1"/>
<line x1="517.1" y1="367.2" x2="517.1" y2="638.4" stroke="#e6e6e6" stroke-width="1"/>
<line x1="557.36" y1="367.2" x2="557.36" y2="638.4" stroke="#e6e6e6" stroke-width="1"/>
<line x1="597.62" y1="367.2" x2="597.62" y2="638.4" stroke="#e6e6e6" stroke-width="1"/>
<line x1="637.88" y1="367.2" x2="637.88" y2="638.4" stroke="#e6e6e6" stroke-width="1"/>
<line x1="678.14" y1="367.2" x2="678.14" y2="638.4" stroke="#e6e6e6" stroke-width="1"/>
<line x1="437.7" y1="383.5" x2="681.7" y2="383.5" stroke="#e6e6e6" stroke-width="1"/>
<line x1="437.7" y1="419.5" x2="681.7" y2="419.5" stroke="#e6e6e6" stroke-width="1"/>
<line x1="437.7" y1="455.5" x2="681.7" y2="455.5" stroke="#e6e6e6" stroke-width="1"/>
<line x1="437.7" y1="491.5" x2="681.7" y2="491.5" stroke="#e6e6e6" stroke-width="1"/>
<line x1="437.7" y1="527.5" x2="681.7" y2="527.5" stroke="#e6e6e6" stroke-width="1"/>
<line x1="437.7" y1="563.5" x2="681.7" y2="563.5" stroke="#e6e6e6" stroke-width="1"/>
<line x1="437.7" y1="599.5" x2="681.7" y2="599.5" stroke="#e6e6e6" stroke-width="1"/>
<line x1="437.7" y1="635.5" x2="681.7" y2="635.5" stroke="#e6e6e6" stroke-width="1"/>
<text x="574.66" y="395.0" font-size="13.6" fill="#111" textLength="90.37" lengthAdjust="spacingAndGlyphs">3-OH butyrate</text>
<text x="601.54" y="435.5" font-size="13.6" fill="#111" textLength="66.51" lengthAdjust="spacingAndGlyphs">Isoleucine</text>
<text x="582.23" y="456.5" font-size="13.6" fill="#111" textLength="84.65" lengthAdjust="spacingAndGlyphs">Acetoacetate</text>
<text x="581.39" y="482.0" font-size="13.6" fill="#111" textLength="64.99" lengthAdjust="spacingAndGlyphs">Succinate</text>
<text x="441.07" y="552.8" font-size="13.6" fill="#111" textLength="52.74" lengthAdjust="spacingAndGlyphs">Tyrosine</text>
<text x="442.94" y="610.7" font-size="13.6" fill="#111" textLength="47.31" lengthAdjust="spacingAndGlyphs">Alanine</text>
<g fill="#ff00ff" fill-opacity="0.53">
<circle cx="522.8" cy="448.8" r="1.9"/>
<circle cx="522.1" cy="449.0" r="1.9"/>
<circle cx="522.3" cy="450.3" r="1.9"/>
<circle cx="520.3" cy="450.8" r="1.9"/>
<circle cx="523.3" cy="451.2" r="1.9"/>
<circle cx="522.2" cy="451.8" r="1.9"/>
<circle cx="523.2" cy="452.8" r="1.9"/>
<circle cx="522.4" cy="452.7" r="1.9"/>
<circle cx="522.2" cy="453.3" r="1.9"/>
<circle cx="520.9" cy="453.1" r="1.9"/>
<circle cx="522.0" cy="454.5" r="1.9"/>
<circle cx="519.2" cy="454.8" r="1.9"/>
<circle cx="523.1" cy="455.8" r="1.9"/>
<circle cx="523.2" cy="455.1" r="1.9"/>
<circle cx="519.2" cy="456.6" r="1.9"/>
<circle cx="524.9" cy="456.3" r="1.9"/>
<circle cx="522.1" cy="457.9" r="1.9"/>
<circle cx="523.3" cy="457.3" r="1.9"/>
<circle cx="522.3" cy="458.8" r="1.9"/>
<circle cx="521.8" cy="458.6" r="1.9"/>
<circle cx="523.1" cy="459.5" r="1.9"/>
<circle cx="523.9" cy="459.7" r="1.9"/>
<circle cx="521.2" cy="459.3" r="1.9"/>
<circle cx="523.3" cy="460.8" r="1.9"/>
<circle cx="524.5" cy="460.5" r="1.9"/>
<circle cx="520.0" cy="460.2" r="1.9"/>
<circle cx="523.5" cy="461.8" r="1.9"/>
<circle cx="523.1" cy="461.6" r="1.9"/>
<circle cx="523.7" cy="461.6" r="1.9"/>
<circle cx="522.8" cy="462.8" r="1.9"/>
<circle cx="519.7" cy="462.8" r="1.9"/>
<circle cx="523.4" cy="462.4" r="1.9"/>
<circle cx="522.8" cy="463.3" r="1.9"/>
<circle cx="521.4" cy="463.4" r="1.9"/>
<circle cx="525.3" cy="463.1" r="1.9"/>
<circle cx="522.1" cy="464.6" r="1.9"/>
<circle cx="521.9" cy="464.0" r="1.9"/>
<circle cx="524.2" cy="465.0" r="1.9"/>
<circle cx="521.4" cy="465.2" r="1.9"/>
<circle cx="518.8" cy="465.7" r="1.9"/>
<circle cx="522.5" cy="465.9" r="1.9"/>
<circle cx="522.1" cy="466.7" r="1.9"/>
<circle cx="521.6" cy="466.7" r="1.9"/>
<circle cx="523.9" cy="466.1" r="1.9"/>
<circle cx="523.7" cy="466.5" r="1.9"/>
<circle cx="524.7" cy="467.0" r="1.9"/>
<circle cx="523.9" cy="467.1" r="1.9"/>
<circle cx="521.9" cy="467.9" r="1.9"/>
<circle cx="522.0" cy="468.4" r="1.9"/>
<circle cx="519.6" cy="468.8" r="1.9"/>
<circle cx="523.2" cy="468.4" r="1.9"/>
<circle cx="525.3" cy="469.8" r="1.9"/>
<circle cx="520.7" cy="469.1" r="1.9"/>
<circle cx="523.6" cy="469.8" r="1.9"/>
<circle cx="525.4" cy="470.8" r="1.9"/>
<circle cx="520.7" cy="470.4" r="1.9"/>
<circle cx="521.2" cy="470.7" r="1.9"/>
<circle cx="524.1" cy="471.3" r="1.9"/>
<circle cx="520.9" cy="471.6" r="1.9"/>
<circle cx="524.6" cy="471.0" r="1.9"/>
<circle cx="524.4" cy="472.6" r="1.9"/>
<circle cx="524.1" cy="472.7" r="1.9"/>
<circle cx="520.9" cy="472.1" r="1.9"/>
<circle cx="519.8" cy="473.8" r="1.9"/>
<circle cx="520.0" cy="473.6" r="1.9"/>
<circle cx="521.6" cy="473.2" r="1.9"/>
<circle cx="523.7" cy="474.5" r="1.9"/>
<circle cx="523.7" cy="474.2" r="1.9"/>
<circle cx="524.4" cy="474.9" r="1.9"/>
<circle cx="521.0" cy="475.2" r="1.9"/>
<circle cx="521.9" cy="475.6" r="1.9"/>
<circle cx="520.6" cy="475.0" r="1.9"/>
<circle cx="520.8" cy="476.8" r="1.9"/>
<circle cx="521.4" cy="476.5" r="1.9"/>
<circle cx="521.7" cy="476.9" r="1.9"/>
<circle cx="520.0" cy="477.8" r="1.9"/>
<circle cx="523.7" cy="477.8" r="1.9"/>
<circle cx="520.0" cy="477.0" r="1.9"/>
<circle cx="518.8" cy="478.6" r="1.9"/>
<circle cx="521.1" cy="478.9" r="1.9"/>
<circle cx="518.7" cy="478.6" r="1.9"/>
<circle cx="521.9" cy="479.6" r="1.9"/>
<circle cx="524.0" cy="479.7" r="1.9"/>
<circle cx="520.1" cy="480.0" r="1.9"/>
<circle cx="519.1" cy="480.4" r="1.9"/>
<circle cx="523.5" cy="480.8" r="1.9"/>
<circle cx="522.2" cy="481.6" r="1.9"/>
<circle cx="518.6" cy="481.1" r="1.9"/>
<circle cx="523.5" cy="481.7" r="1.9"/>
<circle cx="522.4" cy="482.1" r="1.9"/>
<circle cx="519.3" cy="482.5" r="1.9"/>
<circle cx="519.3" cy="482.7" r="1.9"/>
<circle cx="519.3" cy="483.0" r="1.9"/>
<circle cx="519.4" cy="483.9" r="1.9"/>
<circle cx="522.9" cy="483.1" r="1.9"/>
<circle cx="522.7" cy="484.6" r="1.9"/>
<circle cx="521.2" cy="484.5" r="1.9"/>
<circle cx="518.9" cy="484.2" r="1.9"/>
<circle cx="521.0" cy="485.1" r="1.9"/>
<circle cx="519.5" cy="485.4" r="1.9"/>
<circle cx="521.0" cy="485.3" r="1.9"/>
<circle cx="521.3" cy="486.1" r="1.9"/>
<circle cx="518.4" cy="486.9" r="1.9"/>
<circle cx="519.2" cy="486.5" r="1.9"/>
<circle cx="519.6" cy="488.0" r="1.9"/>
<circle cx="522.9" cy="487.1" r="1.9"/>
<circle cx="520.6" cy="487.7" r="1.9"/>
<circle cx="518.2" cy="488.8" r="1.9"/>
<circle cx="518.5" cy="488.8" r="1.9"/>
<circle cx="519.1" cy="488.4" r="1.9"/>
<circle cx="519.9" cy="489.2" r="1.9"/>
<circle cx="521.8" cy="489.2" r="1.9"/>
<circle cx="520.9" cy="490.3" r="1.9"/>
<circle cx="521.5" cy="490.8" r="1.9"/>
<circle cx="519.1" cy="490.1" r="1.9"/>
<circle cx="520.1" cy="491.8" r="1.9"/>
<circle cx="522.5" cy="491.5" r="1.9"/>
<circle cx="520.5" cy="492.9" r="1.9"/>
<circle cx="520.7" cy="492.4" r="1.9"/>
<circle cx="520.6" cy="492.0" r="1.9"/>
<circle cx="519.6" cy="493.7" r="1.9"/>
<circle cx="522.5" cy="493.3" r="1.9"/>
<circle cx="520.0" cy="493.8" r="1.9"/>
<circle cx="522.9" cy="494.5" r="1.9"/>
<circle cx="520.7" cy="494.5" r="1.9"/>
<circle cx="521.0" cy="494.2" r="1.9"/>
<circle cx="520.1" cy="495.1" r="1.9"/>
<circle cx="518.9" cy="495.0" r="1.9"/>
<circle cx="520.9" cy="495.5" r="1.9"/>
<circle cx="522.0" cy="496.0" r="1.9"/>
<circle cx="520.4" cy="496.3" r="1.9"/>
<circle cx="519.7" cy="497.9" r="1.9"/>
<circle cx="521.2" cy="497.2" r="1.9"/>
<circle cx="522.7" cy="497.4" r="1.9"/>
<circle cx="520.4" cy="498.4" r="1.9"/>
<circle cx="521.8" cy="498.3" r="1.9"/>
<circle cx="519.7" cy="499.0" r="1.9"/>
<circle cx="521.9" cy="499.8" r="1.9"/>
<circle cx="521.5" cy="499.9" r="1.9"/>
<circle cx="520.2" cy="500.5" r="1.9"/>
<circle cx="520.0" cy="500.0" r="1.9"/>
<circle cx="522.1" cy="500.9" r="1.9"/>
<circle cx="522.2" cy="501.9" r="1.9"/>
<circle cx="519.9" cy="501.7" r="1.9"/>
<circle cx="522.4" cy="502.6" r="1.9"/>
<circle cx="520.0" cy="503.0" r="1.9"/>
<circle cx="520.0" cy="502.1" r="1.9"/>
<circle cx="520.2" cy="503.3" r="1.9"/>
<circle cx="519.3" cy="503.1" r="1.9"/>
<circle cx="519.3" cy="503.3" r="1.9"/>
<circle cx="521.1" cy="504.6" r="1.9"/>
<circle cx="520.9" cy="504.2" r="1.9"/>
<circle cx="519.9" cy="504.5" r="1.9"/>
<circle cx="518.9" cy="505.2" r="1.9"/>
<circle cx="519.4" cy="505.6" r="1.9"/>
<circle cx="520.7" cy="505.2" r="1.9"/>
<circle cx="520.8" cy="506.3" r="1.9"/>
<circle cx="518.2" cy="506.1" r="1.9"/>
<circle cx="519.7" cy="506.1" r="1.9"/>
<circle cx="519.6" cy="507.2" r="1.9"/>
<circle cx="521.3" cy="507.2" r="1.9"/>
<circle cx="520.1" cy="507.6" r="1.9"/>
<circle cx="520.1" cy="508.7" r="1.9"/>
<circle cx="521.5" cy="508.5" r="1.9"/>
<circle cx="522.3" cy="509.1" r="1.9"/>
<circle cx="517.2" cy="509.8" r="1.9"/>
<circle cx="521.4" cy="510.4" r="1.9"/>
<circle cx="522.0" cy="510.6" r="1.9"/>
<circle cx="519.6" cy="510.7" r="1.9"/>
<circle cx="519.7" cy="511.3" r="1.9"/>
<circle cx="521.8" cy="511.5" r="1.9"/>
<circle cx="518.4" cy="511.1" r="1.9"/>
<circle cx="517.5" cy="512.9" r="1.9"/>
<circle cx="521.7" cy="513.0" r="1.9"/>
<circle cx="520.7" cy="512.0" r="1.9"/>
<circle cx="519.7" cy="513.9" r="1.9"/>
<circle cx="519.9" cy="514.0" r="1.9"/>
<circle cx="519.8" cy="513.7" r="1.9"/>
<circle cx="519.5" cy="514.9" r="1.9"/>
<circle cx="519.8" cy="514.1" r="1.9"/>
<circle cx="519.6" cy="514.6" r="1.9"/>
<circle cx="519.5" cy="515.4" r="1.9"/>
<circle cx="522.3" cy="515.3" r="1.9"/>
<circle cx="517.7" cy="516.3" r="1.9"/>
<circle cx="521.3" cy="516.5" r="1.9"/>
<circle cx="521.2" cy="516.8" r="1.9"/>
<circle cx="518.9" cy="517.2" r="1.9"/>
<circle cx="519.4" cy="517.2" r="1.9"/>
<circle cx="519.7" cy="518.4" r="1.9"/>
<circle cx="519.8" cy="518.0" r="1.9"/>
<circle cx="519.4" cy="518.7" r="1.9"/>
<circle cx="520.0" cy="519.7" r="1.9"/>
<circle cx="519.1" cy="519.3" r="1.9"/>
<circle cx="519.1" cy="520.0" r="1.9"/>
<circle cx="517.0" cy="520.8" r="1.9"/>
<circle cx="517.0" cy="520.5" r="1.9"/>
<circle cx="519.9" cy="521.1" r="1.9"/>
<circle cx="518.7" cy="521.7" r="1.9"/>
<circle cx="517.0" cy="522.9" r="1.9"/>
<circle cx="517.7" cy="522.4" r="1.9"/>
<circle cx="519.1" cy="524.0" r="1.9"/>
<circle cx="517.8" cy="523.0" r="1.9"/>
<circle cx="517.2" cy="524.9" r="1.9"/>
<circle cx="517.2" cy="524.6" r="1.9"/>
<circle cx="518.1" cy="525.4" r="1.9"/>
<circle cx="516.7" cy="525.3" r="1.9"/>
<circle cx="517.7" cy="526.2" r="1.9"/>
<circle cx="517.9" cy="526.3" r="1.9"/>
<circle cx="517.3" cy="527.4" r="1.9"/>
<circle cx="517.4" cy="527.4" r="1.9"/>
<circle cx="516.4" cy="528.0" r="1.9"/>
<circle cx="516.7" cy="528.2" r="1.9"/>
<circle cx="517.4" cy="529.1" r="1.9"/>
<circle cx="518.6" cy="529.2" r="1.9"/>
<circle cx="516.6" cy="531.0" r="1.9"/>
<circle cx="518.1" cy="530.2" r="1.9"/>
<circle cx="516.8" cy="531.9" r="1.9"/>
<circle cx="516.3" cy="531.2" r="1.9"/>
<circle cx="516.6" cy="532.5" r="1.9"/>
<circle cx="515.6" cy="532.8" r="1.9"/>
<circle cx="516.8" cy="533.3" r="1.9"/>
<circle cx="514.6" cy="533.9" r="1.9"/>
<circle cx="515.9" cy="533.6" r="1.9"/>
<circle cx="515.1" cy="534.1" r="1.9"/>
<circle cx="514.5" cy="534.7" r="1.9"/>
<circle cx="517.0" cy="534.8" r="1.9"/>
<circle cx="513.9" cy="535.3" r="1.9"/>
<circle cx="516.9" cy="535.4" r="1.9"/>
<circle cx="516.9" cy="536.2" r="1.9"/>
<circle cx="514.9" cy="536.6" r="1.9"/>
<circle cx="515.9" cy="536.7" r="1.9"/>
<circle cx="513.1" cy="537.2" r="1.9"/>
<circle cx="513.8" cy="537.3" r="1.9"/>
<circle cx="513.6" cy="537.8" r="1.9"/>
<circle cx="513.9" cy="538.4" r="1.9"/>
<circle cx="514.5" cy="538.0" r="1.9"/>
<circle cx="517.2" cy="538.3" r="1.9"/>
<circle cx="516.0" cy="539.0" r="1.9"/>
<circle cx="515.0" cy="539.2" r="1.9"/>
<circle cx="516.9" cy="539.1" r="1.9"/>
<circle cx="517.1" cy="540.3" r="1.9"/>
<circle cx="516.4" cy="540.9" r="1.9"/>
<circle cx="516.7" cy="540.8" r="1.9"/>
<circle cx="514.2" cy="541.4" r="1.9"/>
<circle cx="517.9" cy="541.1" r="1.9"/>
<circle cx="511.9" cy="541.7" r="1.9"/>
<circle cx="516.7" cy="542.6" r="1.9"/>
<circle cx="513.2" cy="542.1" r="1.9"/>
<circle cx="513.6" cy="542.3" r="1.9"/>
<circle cx="516.0" cy="543.2" r="1.9"/>
<circle cx="514.6" cy="543.9" r="1.9"/>
<circle cx="515.4" cy="543.1" r="1.9"/>
<circle cx="515.9" cy="544.8" r="1.9"/>
<circle cx="515.6" cy="544.5" r="1.9"/>
<circle cx="517.0" cy="544.1" r="1.9"/>
<circle cx="511.8" cy="545.3" r="1.9"/>
<circle cx="515.1" cy="545.1" r="1.9"/>
<circle cx="513.9" cy="545.2" r="1.9"/>
<circle cx="517.2" cy="546.1" r="1.9"/>
<circle cx="518.0" cy="546.6" r="1.9"/>
<circle cx="514.1" cy="546.2" r="1.9"/>
<circle cx="516.4" cy="547.6" r="1.9"/>
<circle cx="515.5" cy="547.3" r="1.9"/>
<circle cx="511.3" cy="547.8" r="1.9"/>
<circle cx="513.6" cy="548.8" r="1.9"/>
<circle cx="511.9" cy="548.8" r="1.9"/>
<circle cx="516.1" cy="548.3" r="1.9"/>
<circle cx="512.9" cy="549.4" r="1.9"/>
<circle cx="513.3" cy="549.8" r="1.9"/>
<circle cx="512.8" cy="549.6" r="1.9"/>
<circle cx="517.1" cy="550.9" r="1.9"/>
<circle cx="512.9" cy="550.3" r="1.9"/>
<circle cx="511.1" cy="550.7" r="1.9"/>
<circle cx="514.3" cy="551.0" r="1.9"/>
<circle cx="513.8" cy="551.0" r="1.9"/>
<circle cx="516.7" cy="551.8" r="1.9"/>
<circle cx="514.7" cy="552.4" r="1.9"/>
<circle cx="514.4" cy="552.8" r="1.9"/>
<circle cx="511.6" cy="552.3" r="1.9"/>
<circle cx="512.8" cy="553.2" r="1.9"/>
<circle cx="513.2" cy="554.0" r="1.9"/>
<circle cx="516.6" cy="554.0" r="1.9"/>
<circle cx="516.2" cy="554.1" r="1.9"/>
<circle cx="514.7" cy="554.3" r="1.9"/>
<circle cx="513.7" cy="555.6" r="1.9"/>
<circle cx="514.7" cy="555.0" r="1.9"/>
<circle cx="514.3" cy="555.1" r="1.9"/>
<circle cx="513.8" cy="556.5" r="1.9"/>
<circle cx="513.1" cy="556.1" r="1.9"/>
<circle cx="515.5" cy="556.1" r="1.9"/>
<circle cx="512.4" cy="557.3" r="1.9"/>
<circle cx="513.0" cy="557.6" r="1.9"/>
<circle cx="514.2" cy="557.1" r="1.9"/>
<circle cx="514.9" cy="558.6" r="1.9"/>
<circle cx="515.7" cy="558.1" r="1.9"/>
<circle cx="515.4" cy="558.1" r="1.9"/>
<circle cx="514.2" cy="559.6" r="1.9"/>
<circle cx="511.1" cy="559.8" r="1.9"/>
<circle cx="512.3" cy="559.0" r="1.9"/>
<circle cx="513.8" cy="560.4" r="1.9"/>
<circle cx="514.6" cy="560.9" r="1.9"/>
<circle cx="516.8" cy="560.9" r="1.9"/>
<circle cx="512.5" cy="561.8" r="1.9"/>
<circle cx="516.1" cy="561.1" r="1.9"/>
<circle cx="516.2" cy="561.7" r="1.9"/>
<circle cx="510.7" cy="562.5" r="1.9"/>
<circle cx="510.8" cy="562.9" r="1.9"/>
<circle cx="511.8" cy="562.2" r="1.9"/>
<circle cx="514.2" cy="563.1" r="1.9"/>
<circle cx="513.3" cy="563.2" r="1.9"/>
<circle cx="512.0" cy="563.7" r="1.9"/>
<circle cx="515.1" cy="564.7" r="1.9"/>
<circle cx="516.9" cy="564.0" r="1.9"/>
<circle cx="512.2" cy="564.9" r="1.9"/>
<circle cx="513.5" cy="565.7" r="1.9"/>
<circle cx="512.1" cy="565.8" r="1.9"/>
<circle cx="515.3" cy="565.1" r="1.9"/>
<circle cx="515.2" cy="566.0" r="1.9"/>
<circle cx="512.8" cy="566.6" r="1.9"/>
<circle cx="511.0" cy="566.6" r="1.9"/>
<circle cx="515.0" cy="567.0" r="1.9"/>
<circle cx="513.2" cy="567.3" r="1.9"/>
<circle cx="511.6" cy="567.6" r="1.9"/>
<circle cx="517.0" cy="568.0" r="1.9"/>
<circle cx="515.3" cy="568.9" r="1.9"/>
<circle cx="514.3" cy="568.6" r="1.9"/>
<circle cx="515.8" cy="569.9" r="1.9"/>
<circle cx="511.8" cy="569.8" r="1.9"/>
<circle cx="513.3" cy="569.6" r="1.9"/>
<circle cx="512.5" cy="570.1" r="1.9"/>
<circle cx="514.3" cy="570.5" r="1.9"/>
<circle cx="511.2" cy="570.3" r="1.9"/>
<circle cx="514.3" cy="571.4" r="1.9"/>
<circle cx="511.6" cy="571.2" r="1.9"/>
<circle cx="511.6" cy="571.7" r="1.9"/>
<circle cx="511.8" cy="572.9" r="1.9"/>
<circle cx="509.7" cy="572.2" r="1.9"/>
<circle cx="516.8" cy="572.4" r="1.9"/>
<circle cx="512.7" cy="573.5" r="1.9"/>
<circle cx="511.2" cy="573.3" r="1.9"/>
<circle cx="512.7" cy="574.2" r="1.9"/>
<circle cx="512.0" cy="574.9" r="1.9"/>
<circle cx="510.4" cy="574.7" r="1.9"/>
<circle cx="509.4" cy="575.8" r="1.9"/>
<circle cx="511.5" cy="575.1" r="1.9"/>
<circle cx="515.7" cy="576.6" r="1.9"/>
<circle cx="510.3" cy="576.3" r="1.9"/>
<circle cx="513.8" cy="576.4" r="1.9"/>
<circle cx="510.4" cy="577.0" r="1.9"/>
<circle cx="511.2" cy="577.5" r="1.9"/>
<circle cx="510.3" cy="578.9" r="1.9"/>
<circle cx="516.4" cy="578.1" r="1.9"/>
<circle cx="514.3" cy="578.3" r="1.9"/>
<circle cx="512.0" cy="579.1" r="1.9"/>
<circle cx="511.7" cy="579.5" r="1.9"/>
<circle cx="512.8" cy="579.7" r="1.9"/>
<circle cx="512.2" cy="580.7" r="1.9"/>
<circle cx="514.6" cy="580.3" r="1.9"/>
<circle cx="516.2" cy="580.5" r="1.9"/>
<circle cx="515.9" cy="581.1" r="1.9"/>
<circle cx="512.7" cy="581.8" r="1.9"/>
<circle cx="513.1" cy="581.8" r="1.9"/>
<circle cx="508.6" cy="582.5" r="1.9"/>
<circle cx="509.3" cy="582.9" r="1.9"/>
<circle cx="509.2" cy="582.7" r="1.9"/>
<circle cx="511.1" cy="583.2" r="1.9"/>
<circle cx="511.9" cy="583.6" r="1.9"/>
<circle cx="511.5" cy="584.3" r="1.9"/>
<circle cx="508.4" cy="584.7" r="1.9"/>
<circle cx="512.1" cy="584.9" r="1.9"/>
<circle cx="511.0" cy="585.9" r="1.9"/>
<circle cx="512.9" cy="585.2" r="1.9"/>
<circle cx="510.5" cy="585.2" r="1.9"/>
<circle cx="512.9" cy="586.3" r="1.9"/>
<circle cx="509.2" cy="586.6" r="1.9"/>
<circle cx="514.9" cy="586.3" r="1.9"/>
<circle cx="509.7" cy="587.3" r="1.9"/>
<circle cx="511.9" cy="587.7" r="1.9"/>
<circle cx="513.6" cy="588.2" r="1.9"/>
<circle cx="510.3" cy="588.8" r="1.9"/>
<circle cx="515.2" cy="589.3" r="1.9"/>
<circle cx="511.9" cy="589.0" r="1.9"/>
<circle cx="546.0" cy="377.0" r="1.9"/>
<circle cx="545.0" cy="383.8" r="1.9"/>
<circle cx="524.4" cy="385.4" r="1.9"/>
<circle cx="559.6" cy="391.5" r="1.9"/>
<circle cx="522.6" cy="406.6" r="1.9"/>
<circle cx="540.9" cy="407.8" r="1.9"/>
<circle cx="535.1" cy="410.8" r="1.9"/>
<circle cx="544.8" cy="410.4" r="1.9"/>
<circle cx="545.6" cy="413.1" r="1.9"/>
<circle cx="558.8" cy="408.8" r="1.9"/>
<circle cx="574.6" cy="405.7" r="1.9"/>
<circle cx="568.9" cy="412.3" r="1.9"/>
<circle cx="529.5" cy="417.3" r="1.9"/>
<circle cx="535.5" cy="416.3" r="1.9"/>
<circle cx="539.3" cy="418.9" r="1.9"/>
<circle cx="542.4" cy="420.3" r="1.9"/>
<circle cx="549.2" cy="417.2" r="1.9"/>
<circle cx="551.4" cy="420.9" r="1.9"/>
<circle cx="571.9" cy="418.5" r="1.9"/>
<circle cx="571.5" cy="421.4" r="1.9"/>
<circle cx="577.0" cy="418.3" r="1.9"/>
<circle cx="581.5" cy="418.4" r="1.9"/>
<circle cx="588.4" cy="418.6" r="1.9"/>
<circle cx="615.7" cy="418.9" r="1.9"/>
<circle cx="673.1" cy="419.5" r="1.9"/>
<circle cx="569.6" cy="425.6" r="1.9"/>
<circle cx="521.5" cy="429.4" r="1.9"/>
<circle cx="521.8" cy="429.6" r="1.9"/>
<circle cx="521.5" cy="434.2" r="1.9"/>
<circle cx="521.9" cy="437.3" r="1.9"/>
<circle cx="527.3" cy="436.8" r="1.9"/>
<circle cx="529.7" cy="436.0" r="1.9"/>
<circle cx="531.7" cy="434.0" r="1.9"/>
<circle cx="534.9" cy="432.7" r="1.9"/>
<circle cx="525.4" cy="439.9" r="1.9"/>
<circle cx="549.2" cy="433.1" r="1.9"/>
<circle cx="545.8" cy="439.8" r="1.9"/>
<circle cx="520.8" cy="443.4" r="1.9"/>
<circle cx="521.0" cy="443.6" r="1.9"/>
<circle cx="527.5" cy="445.8" r="1.9"/>
<circle cx="532.8" cy="445.6" r="1.9"/>
<circle cx="534.6" cy="451.2" r="1.9"/>
<circle cx="520.8" cy="448.2" r="1.9"/>
<circle cx="527.9" cy="456.0" r="1.9"/>
<circle cx="527.2" cy="464.4" r="1.9"/>
<circle cx="530.2" cy="472.7" r="1.9"/>
<circle cx="546.9" cy="472.8" r="1.9"/>
<circle cx="530.2" cy="476.1" r="1.9"/>
<circle cx="531.3" cy="483.0" r="1.9"/>
<circle cx="525.4" cy="491.0" r="1.9"/>
<circle cx="530.7" cy="494.0" r="1.9"/>
<circle cx="525.0" cy="496.7" r="1.9"/>
<circle cx="523.5" cy="502.8" r="1.9"/>
<circle cx="521.9" cy="513.2" r="1.9"/>
<circle cx="524.6" cy="491.3" r="1.9"/>
<circle cx="523.1" cy="502.4" r="1.9"/>
<circle cx="509.3" cy="540" r="1.9"/>
<circle cx="508.9" cy="541.3" r="1.9"/>
<circle cx="504.8" cy="547" r="1.9"/>
<circle cx="505" cy="553.1" r="1.9"/>
<circle cx="500.6" cy="553.5" r="1.9"/>
<circle cx="498.8" cy="555.7" r="1.9"/>
<circle cx="506.7" cy="559.7" r="1.9"/>
<circle cx="510.2" cy="558.4" r="1.9"/>
<circle cx="504.5" cy="547" r="1.9"/>
<circle cx="505.2" cy="553.3" r="1.9"/>
<circle cx="499.8" cy="555" r="1.9"/>
<circle cx="506.4" cy="559.4" r="1.9"/>
<circle cx="495.4" cy="571.1" r="1.9"/>
<circle cx="501.5" cy="574.3" r="1.9"/>
<circle cx="506.4" cy="569.9" r="1.9"/>
<circle cx="446.6" cy="583.7" r="1.9"/>
<circle cx="455.2" cy="583.7" r="1.9"/>
<circle cx="462.8" cy="583.7" r="1.9"/>
<circle cx="468.9" cy="583.8" r="1.9"/>
<circle cx="474.0" cy="584.2" r="1.9"/>
<circle cx="478.5" cy="584.6" r="1.9"/>
<circle cx="482.0" cy="585.1" r="1.9"/>
<circle cx="484.9" cy="586.1" r="1.9"/>
<circle cx="487.3" cy="587.0" r="1.9"/>
<circle cx="489.2" cy="588.5" r="1.9"/>
<circle cx="491.6" cy="589.4" r="1.9"/>
<circle cx="490.7" cy="582.5" r="1.9"/>
<circle cx="492.1" cy="591.8" r="1.9"/>
<circle cx="491.6" cy="594.7" r="1.9"/>
<circle cx="489.2" cy="597.1" r="1.9"/>
<circle cx="487.8" cy="599.0" r="1.9"/>
<circle cx="486.3" cy="601.0" r="1.9"/>
<circle cx="485.4" cy="602.4" r="1.9"/>
<circle cx="486.8" cy="595.2" r="1.9"/>
<circle cx="488.8" cy="595.7" r="1.9"/>
<circle cx="496.9" cy="586.5" r="1.9"/>
<circle cx="500.8" cy="588.9" r="1.9"/>
<circle cx="503.2" cy="590.9" r="1.9"/>
<circle cx="504.6" cy="592.8" r="1.9"/>
<circle cx="499.3" cy="596.6" r="1.9"/>
<circle cx="501.3" cy="595.2" r="1.9"/>
<circle cx="500.8" cy="598.6" r="1.9"/>
<circle cx="495.5" cy="601.2" r="1.9"/>
<circle cx="492.1" cy="604.6" r="1.9"/>
<circle cx="506.5" cy="598.1" r="1.9"/>
<circle cx="508.5" cy="595.7" r="1.9"/>
<circle cx="508.9" cy="593.8" r="1.9"/>
<circle cx="509.9" cy="603.4" r="1.9"/>
<circle cx="513.8" cy="604.3" r="1.9"/>
<circle cx="514.2" cy="588" r="1.9"/>
<circle cx="514.2" cy="591" r="1.9"/>
<circle cx="514.2" cy="594" r="1.9"/>
<circle cx="514.2" cy="597" r="1.9"/>
<circle cx="514.2" cy="600" r="1.9"/>
<circle cx="514.2" cy="603" r="1.9"/>
<circle cx="506.0" cy="583.7" r="1.9"/>
<circle cx="509.4" cy="587.5" r="1.9"/>
<circle cx="510.4" cy="584.6" r="1.9"/>
<circle cx="501.7" cy="575" r="1.9"/>
<circle cx="500.6" cy="612.0" r="1.9"/>
<circle cx="498.2" cy="619.2" r="1.9"/>
<circle cx="502.5" cy="623.6" r="1.9"/>
<circle cx="505.1" cy="626.9" r="1.9"/>
<circle cx="498.4" cy="628.4" r="1.9"/>
<circle cx="490.6" cy="582.8" r="1.9"/>
<circle cx="496.9" cy="586.9" r="1.9"/>
<circle cx="505.9" cy="583.5" r="1.9"/>
<circle cx="509.6" cy="594.5" r="1.9"/>
<circle cx="513.9" cy="588.6" r="1.9"/>
<circle cx="477.5" cy="606.8" r="1.9"/>
<circle cx="485.6" cy="606.3" r="1.9"/>
<circle cx="487.2" cy="603.6" r="1.9"/>
</g>
<rect x="437.7" y="367.2" width="244" height="271.2" fill="none" stroke="#5a5a5a" stroke-width="1.1"/>
<line x1="476.84" y1="638.4" x2="476.84" y2="642.6" stroke="#5a5a5a" stroke-width="1"/>
<text x="476.84" y="655.3" font-size="7.9" text-anchor="middle" fill="#2a2a2a">-0.2</text>
<line x1="517.1" y1="638.4" x2="517.1" y2="642.6" stroke="#5a5a5a" stroke-width="1"/>
<text x="517.1" y="655.3" font-size="7.9" text-anchor="middle" fill="#2a2a2a">0.0</text>
<line x1="557.36" y1="638.4" x2="557.36" y2="642.6" stroke="#5a5a5a" stroke-width="1"/>
<text x="557.36" y="655.3" font-size="7.9" text-anchor="middle" fill="#2a2a2a">0.2</text>
<line x1="597.62" y1="638.4" x2="597.62" y2="642.6" stroke="#5a5a5a" stroke-width="1"/>
<text x="597.62" y="655.3" font-size="7.9" text-anchor="middle" fill="#2a2a2a">0.4</text>
<line x1="637.88" y1="638.4" x2="637.88" y2="642.6" stroke="#5a5a5a" stroke-width="1"/>
<text x="637.88" y="655.3" font-size="7.9" text-anchor="middle" fill="#2a2a2a">0.6</text>
<line x1="678.14" y1="638.4" x2="678.14" y2="642.6" stroke="#5a5a5a" stroke-width="1"/>
<text x="678.14" y="655.3" font-size="7.9" text-anchor="middle" fill="#2a2a2a">0.8</text>
<line x1="433.5" y1="383.5" x2="437.7" y2="383.5" stroke="#5a5a5a" stroke-width="1"/>
<text transform="translate(427.9,383.5) rotate(-90)" font-size="7.9" text-anchor="middle" fill="#2a2a2a">0.8</text>
<line x1="433.5" y1="419.5" x2="437.7" y2="419.5" stroke="#5a5a5a" stroke-width="1"/>
<text transform="translate(427.9,419.5) rotate(-90)" font-size="7.9" text-anchor="middle" fill="#2a2a2a">0.6</text>
<line x1="433.5" y1="455.5" x2="437.7" y2="455.5" stroke="#5a5a5a" stroke-width="1"/>
<text transform="translate(427.9,455.5) rotate(-90)" font-size="7.9" text-anchor="middle" fill="#2a2a2a">0.4</text>
<line x1="433.5" y1="491.5" x2="437.7" y2="491.5" stroke="#5a5a5a" stroke-width="1"/>
<text transform="translate(427.9,491.5) rotate(-90)" font-size="7.9" text-anchor="middle" fill="#2a2a2a">0.2</text>
<line x1="433.5" y1="527.5" x2="437.7" y2="527.5" stroke="#5a5a5a" stroke-width="1"/>
<text transform="translate(427.9,527.5) rotate(-90)" font-size="7.9" text-anchor="middle" fill="#2a2a2a">0.0</text>
<line x1="433.5" y1="563.5" x2="437.7" y2="563.5" stroke="#5a5a5a" stroke-width="1"/>
<text transform="translate(427.9,563.5) rotate(-90)" font-size="7.9" text-anchor="middle" fill="#2a2a2a">-0.2</text>
<line x1="433.5" y1="599.5" x2="437.7" y2="599.5" stroke="#5a5a5a" stroke-width="1"/>
<text transform="translate(427.9,599.5) rotate(-90)" font-size="7.9" text-anchor="middle" fill="#2a2a2a">-0.4</text>
<line x1="433.5" y1="635.5" x2="437.7" y2="635.5" stroke="#5a5a5a" stroke-width="1"/>
<text transform="translate(427.9,635.5) rotate(-90)" font-size="7.9" text-anchor="middle" fill="#2a2a2a">-0.6</text>
<text x="518.87" y="353.1" font-size="9.3" font-weight="bold" fill="#111" textLength="82.11" lengthAdjust="spacingAndGlyphs">Feature Importance</text>
<text x="553.27" y="672.5" font-size="7.8" fill="#2a2a2a" textLength="13.44" lengthAdjust="spacingAndGlyphs">p[1]</text>
<text transform="translate(410.6,502.8) rotate(-90)" font-size="7.4" text-anchor="middle" fill="#2a2a2a">p(corr)[1]</text>
</svg></body></html>
